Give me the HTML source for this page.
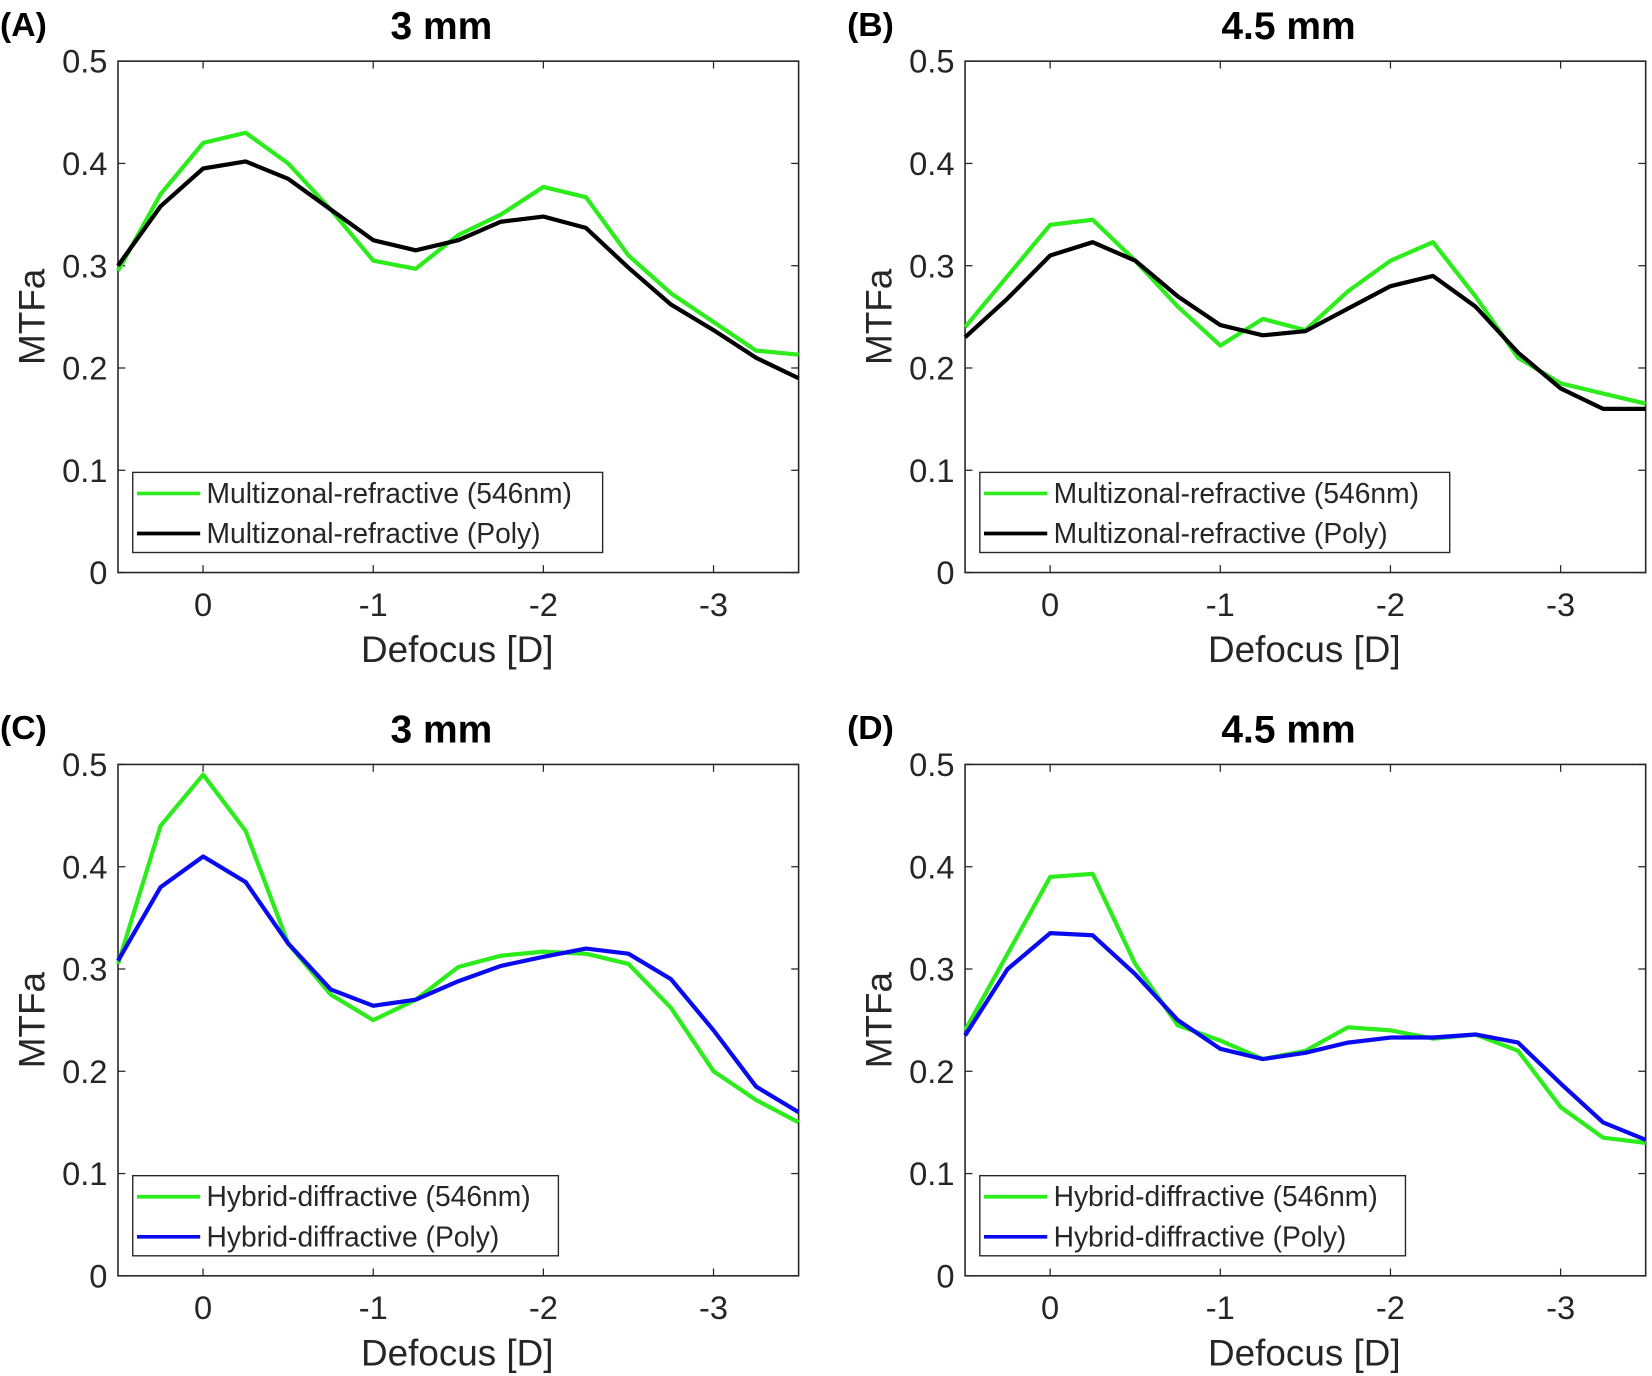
<!DOCTYPE html>
<html><head><meta charset="utf-8"><style>
html,body{margin:0;padding:0;background:#fff;}
svg{display:block;font-family:"Liberation Sans",Arial,sans-serif;}
</style></head><body>
<svg id="fig" width="1652" height="1376" viewBox="0 0 1568 1305" preserveAspectRatio="none" xmlns="http://www.w3.org/2000/svg"></svg>
<script>
const xVals = [0.5,0.25,0,-0.25,-0.5,-0.75,-1,-1.25,-1.5,-1.75,-2,-2.25,-2.5,-2.75,-3,-3.25,-3.5];
const xTicks = [0,-1,-2,-3];
const xTickLabels = ["0","-1","-2","-3"];
const yTicks = [0,0.1,0.2,0.3,0.4,0.5];
const yTickLabels = ["0","0.1","0.2","0.3","0.4","0.5"];
const aGreen = [0.295,0.37,0.42,0.43,0.40,0.355,0.305,0.297,0.33,0.35,0.377,0.367,0.31,0.273,0.245,0.217,0.213];
const aBlack = [0.30,0.358,0.395,0.402,0.385,0.355,0.325,0.315,0.325,0.343,0.348,0.337,0.298,0.262,0.237,0.21,0.19];
const bGreen = [0.24,0.29,0.34,0.345,0.305,0.26,0.222,0.248,0.237,0.275,0.305,0.323,0.27,0.21,0.185,0.175,0.165];
const bBlack = [0.23,0.268,0.31,0.323,0.305,0.27,0.242,0.232,0.236,0.258,0.28,0.29,0.26,0.215,0.18,0.16,0.16];
const cGreen = [0.305,0.44,0.49,0.435,0.325,0.275,0.25,0.27,0.302,0.313,0.317,0.315,0.305,0.262,0.2,0.172,0.15];
const cBlue = [0.308,0.38,0.41,0.385,0.325,0.28,0.264,0.27,0.288,0.303,0.312,0.32,0.315,0.29,0.24,0.185,0.16];
const dGreen = [0.24,0.315,0.39,0.393,0.305,0.245,0.23,0.212,0.22,0.243,0.24,0.232,0.236,0.22,0.165,0.135,0.13];
const dBlue = [0.235,0.3,0.335,0.333,0.295,0.25,0.222,0.212,0.218,0.228,0.233,0.233,0.236,0.228,0.188,0.15,0.133];

const NS="http://www.w3.org/2000/svg";
const svg=document.getElementById('fig');
function mk(tag,attrs,parent){const e=document.createElementNS(NS,tag);for(const k in attrs)e.setAttribute(k,attrs[k]);(parent||svg).appendChild(e);return e;}
const GREEN="#2dec1c", BLACK="#000", BLUE="#0a0af0";
const panels=[
 {id:'a',letter:'(A)',title:'3 mm',L:112,R:758,T:58,B:543,s:[[aGreen,GREEN,'Multizonal-refractive (546nm)'],[aBlack,BLACK,'Multizonal-refractive (Poly)']],lw:446},
 {id:'b',letter:'(B)',title:'4.5 mm',L:916,R:1562,T:58,B:543,s:[[bGreen,GREEN,'Multizonal-refractive (546nm)'],[bBlack,BLACK,'Multizonal-refractive (Poly)']],lw:446},
 {id:'c',letter:'(C)',title:'3 mm',L:112,R:758,T:725,B:1210,s:[[cGreen,GREEN,'Hybrid-diffractive (546nm)'],[cBlue,BLUE,'Hybrid-diffractive (Poly)']],lw:404},
 {id:'d',letter:'(D)',title:'4.5 mm',L:916,R:1562,T:725,B:1210,s:[[dGreen,GREEN,'Hybrid-diffractive (546nm)'],[dBlue,BLUE,'Hybrid-diffractive (Poly)']],lw:404}
];
panels.forEach(p=>{
  const g=mk('g',{});
  
  
  const xs=v=>p.L+(0.5-v)/4*(p.R-p.L);
  const ys=v=>p.B-v/0.5*(p.B-p.T);
  const lt=mk('text',{x:p.L-112,y:p.T-24,'font-size':32,'font-weight':'bold'},g);lt.textContent=p.letter;
  
  
  const tt=mk('text',{x:(p.L+p.R)/2-16,y:p.T-21,'font-size':37,'font-weight':'bold','text-anchor':'middle'},g);tt.textContent=p.title;
  
  
  mk('rect',{x:p.L,y:p.T,width:p.R-p.L,height:p.B-p.T,fill:'none',stroke:'#262626','stroke-width':1.5},g);
  yTicks.forEach((t,i)=>{const y=ys(t);
    mk('line',{x1:p.L,x2:p.L+7,y1:y,y2:y,stroke:'#262626','stroke-width':1.2},g);
    mk('line',{x1:p.R,x2:p.R-7,y1:y,y2:y,stroke:'#262626','stroke-width':1.2},g);
    const tx=mk('text',{x:p.L-10,y:y+11,'font-size':31,'text-anchor':'end',fill:'#262626'},g);tx.textContent=yTickLabels[i];
    
    
  });
  xTicks.forEach((t,i)=>{const x=xs(t);
    mk('line',{x1:x,x2:x,y1:p.B,y2:p.B-7,stroke:'#262626','stroke-width':1.2},g);
    mk('line',{x1:x,x2:x,y1:p.T,y2:p.T+7,stroke:'#262626','stroke-width':1.2},g);
    const tx=mk('text',{x:x,y:p.B+41,'font-size':31,'text-anchor':'middle',fill:'#262626'},g);tx.textContent=xTickLabels[i];
    
    
  });
  const xl=mk('text',{x:(p.L+p.R)/2-1,y:p.B+85,'font-size':35,'text-anchor':'middle',fill:'#262626'},g);xl.textContent='Defocus [D]';
  
  
  const yl=mk('text',{x:0,y:0,'font-size':35,'text-anchor':'middle',fill:'#262626',transform:`translate(${p.L-70},${(p.T+p.B)/2}) rotate(-90)`},g);yl.textContent='MTFa';
  
  
  p.s.forEach((s,si)=>{
    const pts=s[0].map((v,i)=>xs(xVals[i]).toFixed(1)+','+ys(v).toFixed(1)).join(' ');
    const pl=mk('polyline',{points:pts,fill:'none',stroke:s[1],'stroke-width':4,'stroke-linejoin':'round'},g);
    
    
  });
  const lx=p.L+14, ly=p.B-95;
  const lg=mk('g',{},g);
  
  
  mk('rect',{x:lx,y:ly,width:p.lw,height:76,fill:'#fff',stroke:'#262626','stroke-width':1.3},lg);
  p.s.forEach((s,si)=>{const y=ly+20+si*38;
    mk('line',{x1:lx+4,x2:lx+64,y1:y,y2:y,stroke:s[1],'stroke-width':3.5},lg);
    const t=mk('text',{x:lx+70,y:y+9,'font-size':26.8,fill:'#262626'},lg);t.textContent=s[2];
    
    
  });
});
</script>
</body></html>
